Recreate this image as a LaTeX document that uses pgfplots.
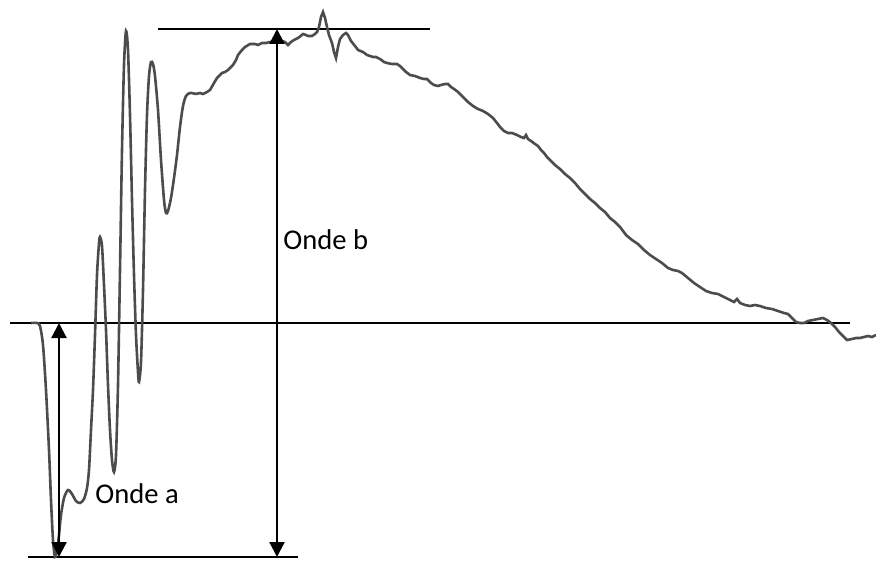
\documentclass[border=0pt]{standalone}
\usepackage{pgfplots}
\pgfplotsset{compat=1.18}
\usepackage{fontspec}
\setmainfont{Carlito}
\usetikzlibrary{arrows.meta}
\begin{document}
\begin{tikzpicture}
\begin{axis}[
  width=438pt, height=280.5pt, scale only axis,
  xmin=0, xmax=876, ymin=0, ymax=561, y dir=reverse,
  hide axis, clip=true,
]
\path (rel axis cs:0,0) rectangle (rel axis cs:1,1);
% reference lines
\draw[black, line width=1.1pt] (axis cs:10,323) -- (axis cs:850,323);
\draw[black, line width=1.1pt] (axis cs:158,29) -- (axis cs:430,29);
\draw[black, line width=1.1pt] (axis cs:28,557) -- (axis cs:298,557);
% oscillatory part
\addplot[black!70, line width=1.3pt, smooth, tension=0.45] coordinates {
(31,323) (37,323) (40,326) (43,345) (46,390) (49,450) (51,500) (53,540) (55,557)
(57,550) (59,535) (61,515) (64,498) (68,490) (72,494) (76,501) (80,503) (84,499)
(87,488) (89,470) (91,430) (93,390) (95,335) (97,275) (99,243) (100,237) (102,246)
(104,285) (106,330) (108,385) (110,430) (112,460) (114,472) (116,455) (118,385)
(120,270) (122,150) (124,65) (126,31) (128,50) (130,115) (132,200) (134,275)
(136,335) (138,372) (139,382) (141,362) (143,290) (145,190) (147,115) (149,76)
(151,62) (153,64) (155,76) (158,110) (161,160) (164,200) (166,213) (168,211)
(171,198) (174,178) (177,155) (180,127) (183,106) (186,96) (190,93) (196,94)
};
% b-wave and decline
\addplot[black!70, line width=1.3pt] coordinates {
(196,94) (200,93) (203,94) (207,92) (210,90) (214,83) (217,78) (222,73) (225,72)
(228,70) (233,65) (236,60) (238,55) (242,50) (245,47) (250,44) (255,44) (258,45)
(262,43) (266,43) (270,42) (274,42) (277,41.5) (282,41) (285,42) (288,45) (291,42)
(294,40) (298,38) (300,36.5) (303,34) (306,35) (308,36) (312,36) (315,34) (317,32)
(319,27) (321,17) (323,12) (325,18) (327,27) (329,35) (332,43) (334,52) (336,58)
(338,47) (340,39) (343,35) (346,33) (348,35) (351,41) (355,46) (358,50) (363,52)
(367,55) (370,56) (373,57) (376,57) (380,59) (384,62) (387,63) (392,64) (397,64)
(400,66) (402,68) (406,72) (410,75) (415,76) (420,78) (424,79) (427,79) (431,83)
(434,85) (438,86) (441,85) (445,84) (448,84) (451,87) (454,89) (458,92) (463,97)
(468,102) (473,106) (478,109) (483,111) (488,114) (493,118) (497,123) (500,127)
(504,131) (508,133) (512,133) (517,135) (521,137) (524,138) (526,135) (528,139)
(531,141) (535,144) (538,146) (541,150) (544,153) (547,157) (550,160) (555,165)
(560,169) (565,174) (570,178) (575,183) (580,189) (585,194) (590,199) (595,203)
(600,208) (605,212) (610,218) (615,222) (620,227) (626,235) (632,240) (638,244)
(644,250) (650,255) (656,259) (662,263) (668,268) (673,270) (678,271) (682,273)
(688,278) (694,283) (700,287) (706,291) (712,293) (718,294) (724,297) (730,300)
(734,302) (737,299) (740,303) (745,305) (750,306) (755,305) (760,306) (766,308)
(772,309) (778,311) (784,313) (788,314) (792,318) (796,322) (800,323) (804,323)
(808,321) (813,320) (818,319) (823,318) (827,320) (831,323) (835,327) (839,332)
(843,336) (847,340) (852,339) (856,338) (860,338) (864,337) (868,336) (872,337)
(876,335)
};
% arrows
\draw[black, line width=1.1pt, {Triangle[length=7.5pt,width=7.5pt]}-{Triangle[length=7.5pt,width=7.5pt]}]
  (axis cs:59,323) -- (axis cs:59,557);
\draw[black, line width=1.1pt, {Triangle[length=7.5pt,width=7.5pt]}-{Triangle[length=7.5pt,width=7.5pt]}]
  (axis cs:277,29) -- (axis cs:277,557);
% labels
\node[anchor=west, inner sep=0pt, font=\fontsize{14.3}{17}\selectfont] at (axis cs:283,240) {Onde b};
\node[anchor=west, inner sep=0pt, font=\fontsize{14.3}{17}\selectfont] at (axis cs:95,494) {Onde a};
\end{axis}
\end{tikzpicture}
\end{document}
